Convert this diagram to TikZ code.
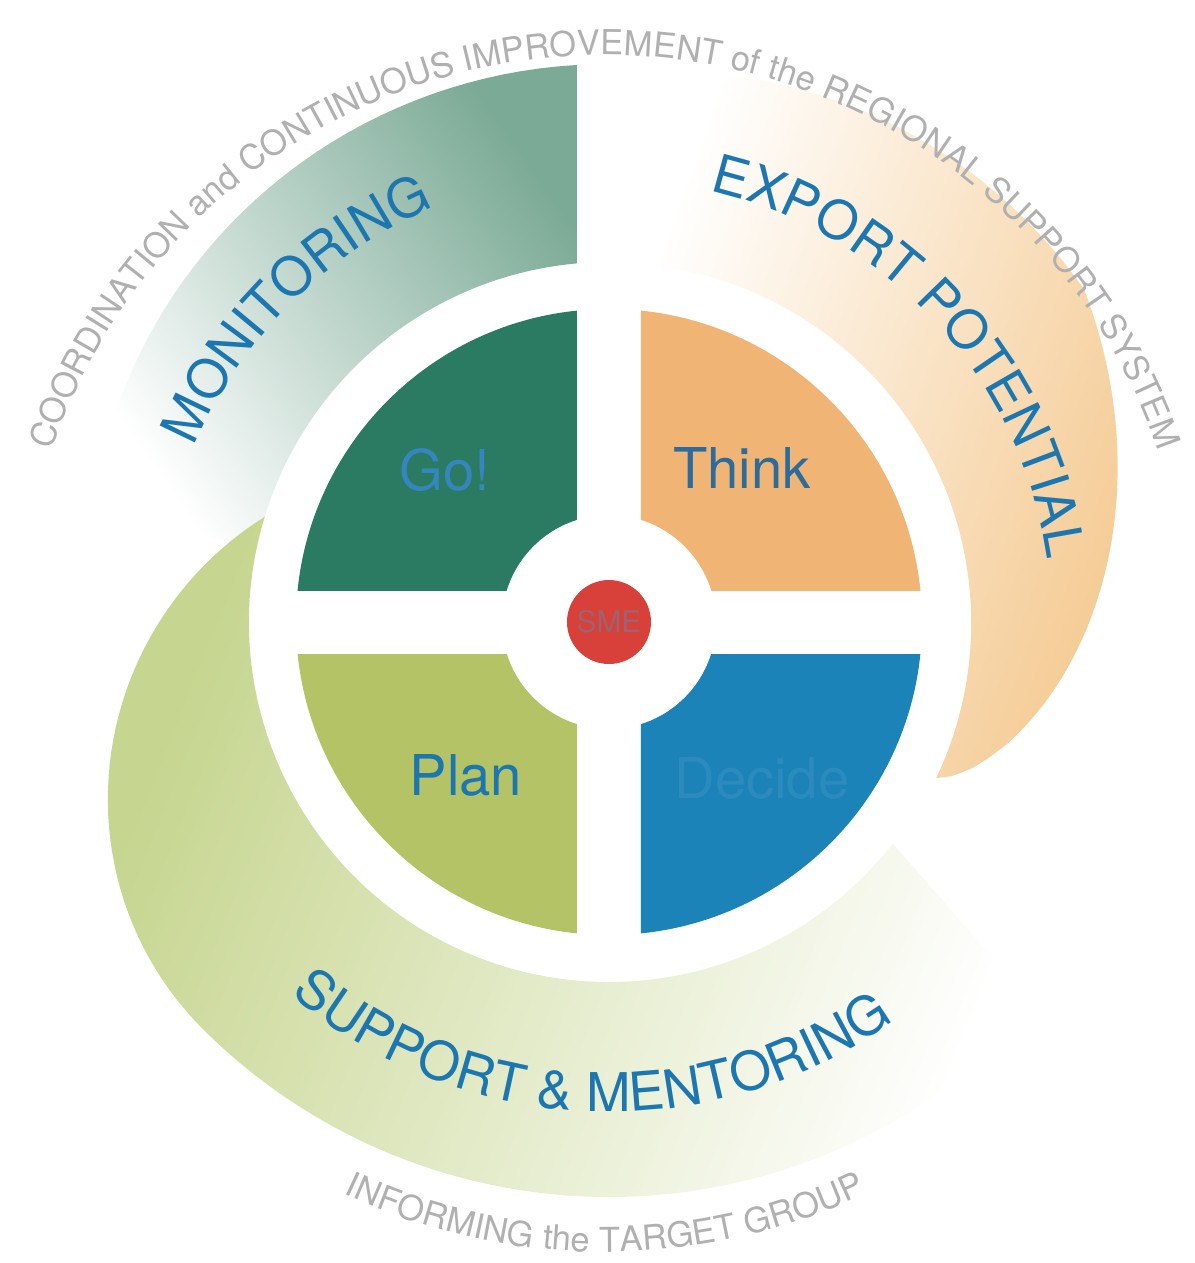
\documentclass[tikz,border=0pt]{standalone}
\usepackage{fontspec}
\setmainfont{TeX Gyre Heros}
\usetikzlibrary{decorations.text}
\definecolor{gocol}{HTML}{2B7B63}
\definecolor{thinkcol}{HTML}{F0B575}
\definecolor{plancol}{HTML}{B4C366}
\definecolor{decidecol}{HTML}{1B83B7}
\definecolor{smecol}{HTML}{D8403A}
\definecolor{lblue}{HTML}{1C77B1}
\definecolor{thinktext}{HTML}{2C6C9C}
\definecolor{gotext}{HTML}{3585BE}
\definecolor{decidetext}{HTML}{2C8BBE}
\definecolor{smetext}{HTML}{9C6472}
\definecolor{ringgray}{HTML}{B0B0B0}
\definecolor{mondark}{HTML}{7BAA96}
\definecolor{monmid}{HTML}{B3CDBE}
\definecolor{expdark}{HTML}{F5CC96}
\definecolor{exppale}{HTML}{FEF5D8}
\definecolor{supdark}{HTML}{C6D58F}
\definecolor{supmid}{HTML}{D9E4CA}
\newcommand{\bandfont}{\fontsize{15.2}{18}\selectfont}
\newcommand{\ringfont}{\fontsize{9.8}{12}\selectfont}

\begin{document}
\begin{tikzpicture}[
    qlabel/.style={font=\fontsize{16}{19}\selectfont, inner sep=0pt},
    bandtext/.style={decorate, decoration={text along path, text align=center, text={|\bandfont\color{lblue}|#1}}},
    ringtext/.style={decorate, decoration={text along path, text align=center, text={|\ringfont\color{ringgray}|#1}}}
  ]
    \useasboundingbox (-6.09,-6.41) rectangle (5.86,6.22);
    % swirl bands
    \shade[top color=mondark, middle color=monmid, bottom color=white, shading angle=-55]
        (-0.32,5.57) -- (-0.32,3.586) arc[start angle=95.1, end angle=168, radius=3.6]
        -- plot[domain=168:93.3, samples=40] (\x:{5.58-0.3*((\x-93.3)/74.7)*((\x-93.3)/74.7)}) -- cycle;
    \shade[top color=supdark, middle color=supmid, bottom color=white, shading angle=68]
        (163:3.6) arc[start angle=163, end angle=322, radius=3.6]
        -- (318:5.75) arc[start angle=318, end angle=225, radius=5.75]
        -- plot[domain=225:163, samples=50] (\x:{3.6+2.15*sin(90*(\x-163)/62)}) -- cycle;
    \shade[top color=expdark, middle color=exppale, bottom color=white, shading angle=-110]
        (0.32,3.586) -- (0.32,5.49)
        -- plot[domain=86.6:35, samples=30] (\x:{5.8-0.3*((\x-35)/51.6)*((\x-35)/51.6)})
        -- plot[domain=35:-25.5, samples=50] (\x:{3.6+2.2*((\x+25.6)/60.6)^0.7})
        arc[start angle=-25.5, end angle=84.9, radius=3.6] -- cycle;
    % quadrants
    \foreach \sx/\sy/\col in {-1/1/gocol, 1/1/thinkcol, -1/-1/plancol, 1/-1/decidecol}{
        \begin{scope}
            \clip (\sx*0.32,\sy*0.32) rectangle (\sx*3.3,\sy*3.3);
            \fill[\col, even odd rule] (0,0) circle[radius=3.13] circle[radius=1.07];
        \end{scope}
    }
    \node[qlabel, text=gotext] (go) at (-1.64,1.52) {Go!};
    \node[qlabel, text=thinktext] (think) at (1.33,1.54) {Think};
    \node[qlabel, text=lblue] (plan) at (-1.43,-1.53) {Plan};
    \node[qlabel, text=decidetext] (decide) at (1.53,-1.56) {Decide};
    \node[circle, fill=smecol, minimum size=0.84cm, inner sep=0pt, text=smetext,
        font=\fontsize{8.5}{10}\selectfont] (sme) at (0,0) {SME};
    % curved labels
    \path[bandtext=MONITORING] (170:4.5) arc[start angle=170, end angle=100, radius=4.5];
    \path[bandtext=EXPORT POTENTIAL] (95:4.43) arc[start angle=95, end angle=-10, radius=4.43];
    \path[bandtext=SUPPORT {\&} MENTORING] (215:4.9) arc[start angle=215, end angle=320, radius=4.9];
    \begin{scope}[shift={(-0.04,-0.18)}]
        \path[ringtext=COORDINATION and CONTINUOUS IMPROVEMENT of the REGIONAL SUPPORT SYSTEM]
            (170:5.85) arc[start angle=170, end angle=10, radius=5.85];
        \path[ringtext=INFORMING the TARGET GROUP] (240:6.12) arc[start angle=240, end angle=300, radius=6.12];
    \end{scope}
\end{tikzpicture}
\end{document}
